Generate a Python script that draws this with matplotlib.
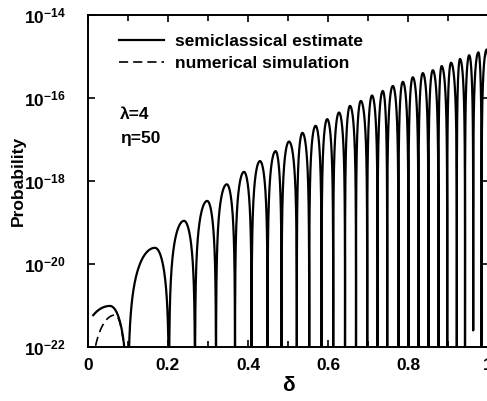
import numpy as np
import matplotlib
matplotlib.use("Agg")
import matplotlib.pyplot as plt
from matplotlib.ticker import FixedLocator, NullFormatter

plt.rcParams['font.family'] = ['Liberation Sans', 'DejaVu Sans']
plt.rcParams['font.weight'] = 'bold'
plt.rcParams['axes.labelweight'] = 'bold'
plt.rcParams['mathtext.fontset'] = 'custom'
plt.rcParams['mathtext.rm'] = 'Liberation Sans:bold'
plt.rcParams['mathtext.it'] = 'Liberation Sans:bold:italic'
plt.rcParams['mathtext.bf'] = 'Liberation Sans:bold'

# zeros of the semiclassical curve, first one lies left of the frame
zeros = [-0.041, 0.100, 0.2025, 0.2675, 0.320, 0.3675, 0.409, 0.449, 0.484, 0.522,
         0.553, 0.584, 0.613, 0.6425, 0.670, 0.698, 0.724, 0.748, 0.776, 0.801,
         0.826, 0.851, 0.876, 0.898, 0.922, 0.9425, 0.963, 0.984, 1.005]
# position and log10 height of the maximum of each lobe
peak_x = [0.055, 0.1675, 0.240, 0.298, 0.347, 0.390, 0.430, 0.469, 0.5025, 0.536,
          0.569, 0.598, 0.6275, 0.655, 0.682, 0.710, 0.737, 0.762, 0.787, 0.812,
          0.837, 0.862, 0.884, 0.9075, 0.930, 0.953, 0.976, 0.997]
peak_log = [-21.01, -19.61, -18.96, -18.48, -18.08, -17.78, -17.52, -17.28, -17.05, -16.84,
            -16.67, -16.51, -16.35, -16.19, -16.07, -15.94, -15.83, -15.71, -15.61, -15.50,
            -15.40, -15.33, -15.23, -15.15, -15.06, -14.97, -14.90, -14.83]
curve_start = 0.013
shallow_zero = 0.963      # this dip stops short of the axis
shallow_log = -21.6

# numerical simulation: only visible on the first lobe
num_zeros = [0.000, 0.098]
num_peak_x = 0.0675
num_peak_log = -21.23


def lobe(z0, xp, z1, lp, n=400):
    x = np.linspace(z0, z1, n)
    a = 10.0 ** lp
    left = a * np.sin(0.5 * np.pi * (x - z0) / (xp - z0)) ** 2
    right = a * np.cos(0.5 * np.pi * (x - xp) / (z1 - xp)) ** 2
    return x, np.where(x <= xp, left, right)


xs, ys = [], []
for i in range(len(peak_x)):
    x, y = lobe(zeros[i], peak_x[i], zeros[i + 1], peak_log[i])
    xs.append(x)
    ys.append(y)
x_semi = np.concatenate(xs)
y_semi = np.concatenate(ys)
keep = x_semi >= curve_start
x_semi, y_semi = x_semi[keep], y_semi[keep]
near = np.abs(x_semi - shallow_zero) < 0.002
y_semi[near] = np.maximum(y_semi[near], 10.0 ** shallow_log)

x_num, y_num = lobe(num_zeros[0], num_peak_x, num_zeros[1], num_peak_log)

fig = plt.figure(figsize=(4.87, 4.01), dpi=100)
ax = fig.add_axes([88 / 487, 54 / 401, 400 / 487, 332 / 401])

ax.plot(x_semi, y_semi, color='black', lw=1.6, label='semiclassical estimate')
ax.plot(x_num, y_num, color='black', lw=1.2, dashes=(5.5, 3), label='numerical simulation')

ax.set_yscale('log')
ax.set_xlim(0, 1)
ax.set_ylim(1e-22, 1e-14)

ax.set_xticks([0, 0.2, 0.4, 0.6, 0.8, 1.0])
ax.set_xticklabels(['0', '0.2', '0.4', '0.6', '0.8', '1'])
ax.xaxis.set_minor_locator(FixedLocator([0.1, 0.3, 0.5, 0.7, 0.9]))
ax.set_yticks([1e-22, 1e-20, 1e-18, 1e-16, 1e-14])
ax.set_yticklabels([r'$10^{-22}$', r'$10^{-20}$', r'$10^{-18}$', r'$10^{-16}$', r'$10^{-14}$'])
ax.yaxis.set_minor_locator(FixedLocator([]))
ax.yaxis.set_minor_formatter(NullFormatter())

ax.tick_params(which='both', direction='in', top=True, right=True, width=1.2)
ax.tick_params(which='major', length=5)
ax.tick_params(which='minor', length=4)
ax.tick_params(axis='x', labelsize=12.5, pad=8)
ax.tick_params(axis='y', labelsize=12.5, pad=16)
for s in ax.spines.values():
    s.set_linewidth(1.4)

ax.set_xlabel('δ', fontsize=15, labelpad=2)
ax.set_ylabel('Probability', fontsize=12.5, fontweight='bold')
ax.yaxis.set_label_coords(-0.155, 0.5)

ax.legend(loc='upper left', frameon=False, fontsize=12.5, handlelength=2.6,
          handletextpad=0.6, labelspacing=0.37, borderaxespad=0.7,
          bbox_to_anchor=(0.03, 1.0))
ax.text(0.08, 0.70, 'λ=4', transform=ax.transAxes, fontsize=12.5, va='center')
ax.text(0.08, 0.628, 'η=50', transform=ax.transAxes, fontsize=12.5, va='center')

fig.savefig('out.png', dpi=100)
